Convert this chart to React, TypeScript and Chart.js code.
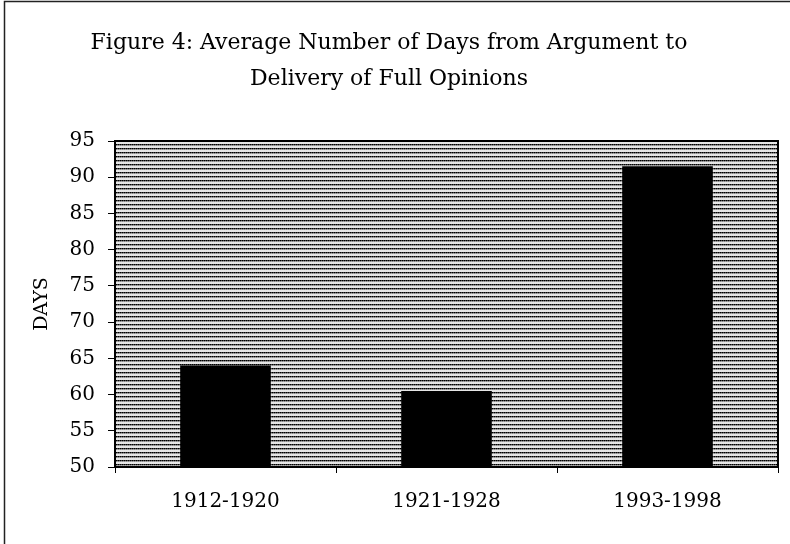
import React, { useEffect, useRef } from "react";
import { Chart, registerables } from "chart.js";
Chart.register(...registerables);

const categories = ["1912-1920", "1921-1928", "1993-1998"];
const avgDays = [64, 60.5, 91.5];
const yMin = 50;
const yMax = 95;
const yStep = 5;
const titleLines = ["Figure 4: Average Number of Days from Argument to", "Delivery of Full Opinions"];
const yAxisTitle = "DAYS";

const FONT = "'DejaVu Serif', 'Liberation Serif', serif";

function makeHatch(ctx: CanvasRenderingContext2D) {
  const c = document.createElement("canvas");
  c.width = 4;
  c.height = 4;
  const g = c.getContext("2d")!;
  g.fillStyle = "#e6e6e6";
  g.fillRect(0, 0, 4, 4);
  for (let x = 0; x < 4; x++) {
    g.fillStyle = x % 2 === 0 ? "#000" : "#444";
    g.fillRect(x, 0, 1, 1);
    g.fillStyle = x % 2 === 0 ? "#888" : "#aaa";
    g.fillRect(x, 1, 1, 1);
  }
  return ctx.createPattern(c, "repeat")!;
}

const framePlugin = {
  id: "frame",
  beforeDraw(chart: any) {
    const { ctx, width, height } = chart;
    ctx.save();
    ctx.fillStyle = "#fff";
    ctx.fillRect(0, 0, width, height);
    ctx.strokeStyle = "#222";
    ctx.lineWidth = 1.5;
    ctx.beginPath();
    ctx.moveTo(4.5, height);
    ctx.lineTo(4.5, 1.5);
    ctx.lineTo(width, 1.5);
    ctx.stroke();
    ctx.restore();
  },
  beforeDatasetsDraw(chart: any) {
    const { ctx, chartArea: a } = chart;
    ctx.save();
    ctx.fillStyle = makeHatch(ctx);
    ctx.fillRect(a.left, a.top, a.right - a.left, a.bottom - a.top);
    ctx.restore();
  },
  afterDatasetsDraw(chart: any) {
    const { ctx, chartArea: a } = chart;
    ctx.save();
    ctx.strokeStyle = "#000";
    ctx.lineWidth = 2;
    ctx.strokeRect(a.left, a.top, a.right - a.left, a.bottom - a.top);
    ctx.restore();
  },
};

export default function App() {
  const ref = useRef<HTMLCanvasElement>(null);
  useEffect(() => {
    document.body.style.margin = "0";
    const chart = new Chart(ref.current!, {
      type: "bar",
      data: {
        labels: categories,
        datasets: [
          {
            label: "Average days",
            data: avgDays,
            backgroundColor: "#000",
            borderWidth: 0,
            categoryPercentage: 0.82,
            barPercentage: 0.5,
          },
        ],
      },
      options: {
        responsive: false,
        animation: false,
        layout: { padding: { left: 0, right: 12, top: 0, bottom: 0 } },
        plugins: {
          legend: { display: false },
          tooltip: { enabled: false },
          title: {
            display: true,
            text: titleLines,
            color: "#000",
            font: { family: FONT, size: 22, weight: "normal", lineHeight: 1.6 },
            padding: { top: 26, bottom: 44.6 },
          },
        },
        scales: {
          x: {
            afterFit: (s: any) => {
              s.height = 77;
            },
            grid: { drawOnChartArea: false, drawTicks: true, tickLength: 6, color: "#000", offset: true },
            border: { display: true, color: "#000", width: 2 },
            ticks: { color: "#000", padding: 17, font: { family: FONT, size: 20 } },
          },
          y: {
            min: yMin,
            max: yMax,
            afterFit: (s: any) => {
              s.width = 115;
            },
            ticks: { stepSize: yStep, color: "#000", padding: 13, font: { family: FONT, size: 20 } },
            grid: { drawOnChartArea: false, drawTicks: true, tickLength: 7, color: "#000" },
            border: { display: true, color: "#000", width: 2 },
            title: {
              display: true,
              text: yAxisTitle,
              color: "#000",
              font: { family: FONT, size: 19, lineHeight: 1.2 },
              padding: { top: 31, bottom: 0 },
            },
          },
        },
      },
      plugins: [framePlugin],
    });
    return () => chart.destroy();
  }, []);
  return (
    <div style={{ width: 790, height: 544 }}>
      <canvas ref={ref} width={790} height={544} style={{ display: "block" }} />
    </div>
  );
}
